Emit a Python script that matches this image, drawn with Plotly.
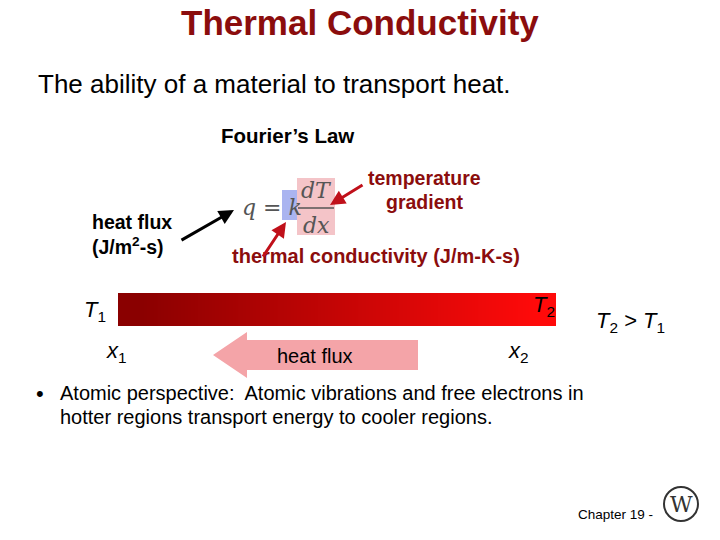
import plotly.graph_objects as go

gradient_edges = [118, 158, 198, 238, 278, 318, 358, 398, 438, 478, 518, 556]
gradient_z = [0, 0.1, 0.2, 0.3, 0.4, 0.5, 0.6, 0.7, 0.8, 0.9, 1.0]

fig = go.Figure()
fig.add_trace(go.Heatmap(x=gradient_edges, y=[293, 326], z=[gradient_z],
                         colorscale=[[0, "#8a0000"], [1, "#ff0a0a"]], showscale=False,
                         zsmooth="best", hoverinfo="skip"))

shapes = [
    dict(type="rect", x0=282, x1=298, y0=190, y1=220, fillcolor="#aab4f0", line_width=0, layer="below"),
    dict(type="rect", x0=297, x1=335, y0=178, y1=235, fillcolor="#f4c4c8", line_width=0, layer="below"),
    dict(type="path", path="M 418 340 L 247 340 L 247 332 L 213 355 L 247 378 L 247 370 L 418 370 Z",
         fillcolor="#f4a4a8", line_width=0),
]
fig.update_layout(shapes=shapes)

def txt(x, y, s, size=17, color="black", bold=False, anchor="left", family="Liberation Sans, Arial"):
    if bold: s = "<b>" + s + "</b>"
    fig.add_annotation(x=x, y=y, text=s, showarrow=False, xanchor=anchor, yanchor="middle",
                       font=dict(size=size, color=color, family=family))

txt(360, 22, "Thermal Conductivity", 35, "#8b0d0d", bold=True, anchor="center")
txt(36, 84, "The ability of a material to transport heat.", 26)
txt(287, 135, "Fourier’s Law", 20.5, bold=True, anchor="center")
txt(424, 178, "temperature", 19.5, "#8b0d0d", bold=True, anchor="center")
txt(424, 202, "gradient", 19.5, "#8b0d0d", bold=True, anchor="center")
txt(90, 222, "heat flux", 19.5, bold=True)
txt(90, 246, "(J/m<sup>2</sup>-s)", 19.5, bold=True)
txt(230, 256, "thermal conductivity (J/m-K-s)", 20, "#8b0d0d", bold=True)
txt(240, 207, "<i>q</i> = <i>k</i>", 22, "#555555", family="DejaVu Serif")
txt(316, 190, "<i>dT</i>", 22, "#555555", anchor="center", family="DejaVu Serif")
txt(316, 225, "<i>dx</i>", 22, "#555555", anchor="center", family="DejaVu Serif")
txt(82, 311, "<i>T</i><sub>1</sub>", 22)
txt(531, 306, "<i>T</i><sub>2</sub>", 22)
txt(104, 352, "<i>x</i><sub>1</sub>", 22)
txt(506, 352, "<i>x</i><sub>2</sub>", 22)
txt(275, 356, "heat flux", 20)
txt(594, 322, "<i>T</i><sub>2</sub> > <i>T</i><sub>1</sub>", 22)
txt(34, 393, "•", 22)
txt(58, 393, "Atomic perspective:  Atomic vibrations and free electrons in", 20)
txt(58, 417, "hotter regions transport energy to cooler regions.", 20)
txt(576, 514, "Chapter 19 -", 13.5)
fig.add_shape(type="line", x0=298, x1=334, y0=208, y1=208, line=dict(color="#555555", width=1.5))
fig.add_shape(type="circle", x0=664, x1=698, y0=487, y1=521, line=dict(color="#333333", width=2))
txt(681, 504, "W", 22, "#333333", anchor="center", family="DejaVu Serif")

def arrow(x0, y0, x1, y1, color):
    fig.add_annotation(x=x1, y=y1, ax=x0, ay=y0, xref="x", yref="y", axref="x", ayref="y",
                       showarrow=True, arrowhead=2, arrowsize=1, arrowwidth=3, arrowcolor=color, text="")

arrow(180, 241, 234, 210, "black")
arrow(364, 184, 330, 205, "#c0101a")
arrow(262, 258, 286, 222, "#c0101a")

fig.update_xaxes(range=[0, 720], visible=False, fixedrange=True)
fig.update_yaxes(range=[540, 0], visible=False, fixedrange=True)
fig.update_layout(width=720, height=540, margin=dict(l=0, r=0, t=0, b=0),
                  plot_bgcolor="white", paper_bgcolor="white", showlegend=False)
fig.write_html("out.html", config={"displayModeBar": False},
               post_script="document.body.style.margin='0';document.body.style.overflow='hidden';")
